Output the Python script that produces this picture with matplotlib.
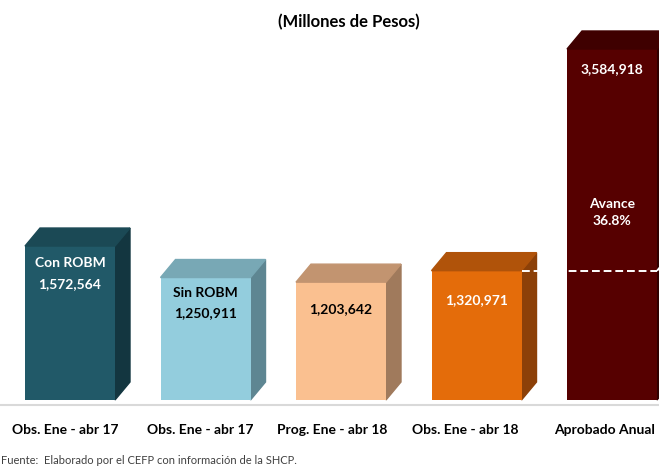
import numpy as np
import matplotlib.pyplot as plt
from matplotlib.patches import Polygon

plt.rcParams['font.family'] = ['Lato', 'DejaVu Sans']

# data
categories = ['Obs. Ene - abr 17', 'Obs. Ene - abr 17', 'Prog. Ene - abr 18',
              'Obs. Ene - abr 18', 'Aprobado Anual']
values = [1572564, 1250911, 1203642, 1320971, 3584918]
inner_labels = [['Con ROBM', '1,572,564'], ['Sin ROBM', '1,250,911'],
                ['1,203,642'], ['1,320,971'], ['3,584,918']]
avance_pct = 36.8

# styles (front, top, side, text color)
front = ['#215968', '#93CDDD', '#FAC090', '#E46C0A', '#560000']
top = ['#1B4955', '#78A8B5', '#C29470', '#B0530A', '#3F0000']
side = ['#133640', '#5E8692', '#A07A5C', '#8C4008', '#300000']
txt_col = ['white', 'black', 'black', 'white', 'white']
first_off = [17, 15, 27, 29, 20]  # px below bar top
label_dx = [-5, -5, -9, -11, -7]  # px shift of category labels

W, H = 659, 468
fig = plt.figure(figsize=(W / 100, H / 100), dpi=100)
ax = fig.add_axes([0, 0, 1, 1])

k = 351 / 3584918.0          # px per unit
x0, step = 70, 135.5          # px
ax.set_xlim(-x0 / step, (W - x0) / step)
ax.set_ylim(-68 / k, 400 / k)
ax.axis('off')

bw = 90 / step
ddx = 15 / step
ddy = 18 / k

x = np.arange(len(values))
ax.bar(x, values, width=bw, color=front, zorder=3)
for i, v in enumerate(values):
    l, r = i - bw / 2, i + bw / 2
    ax.add_patch(Polygon([(l, v), (r, v), (r + ddx, v + ddy), (l + ddx, v + ddy)],
                         closed=True, color=top[i], zorder=3))
    ax.add_patch(Polygon([(r, 0), (r + ddx, ddy), (r + ddx, v + ddy), (r, v)],
                         closed=True, color=side[i], zorder=2))
    for j, s in enumerate(inner_labels[i]):
        ax.annotate(s, (i, v), xytext=(0, -(first_off[i] + 21 * j) * 0.72),
                    textcoords='offset points', ha='center', va='center',
                    fontsize=10, fontweight='bold', color=txt_col[i], zorder=5)
    ax.annotate(categories[i], (i, 0), xytext=(label_dx[i] * 0.72, -30 * 0.72),
                textcoords='offset points', ha='center', va='center',
                fontsize=10, fontweight='bold', color='black')

# avance line
lvl = values[-1] * avance_pct / 100
ax.plot([3 + bw / 2, 4 + bw / 2], [lvl, lvl], color='white', ls=(0, (4, 2)),
        lw=1.4, zorder=6)
ax.plot([4 + bw / 2, 4 + bw / 2 + ddx], [lvl, lvl + ddy], color='white',
        ls=(0, (4, 2)), lw=1.4, zorder=6)
ax.annotate('Avance\n%.1f%%' % avance_pct, (4, lvl), xytext=(0, 58 * 0.72),
            textcoords='offset points', ha='center', va='center',
            fontsize=10, fontweight='bold', color='white', linespacing=1.5, zorder=5)

# baseline
ax.axhline(-5 / k, color='#D9D9D9', lw=1.5, zorder=1)

fig.text(349 / W, 1 - 22 / H, '(Millones de Pesos)', ha='center', va='center',
         fontsize=12, fontweight='bold')
fig.text(1 / W, 1 - 461 / H, 'Fuente:  Elaborado por el CEFP con información de la SHCP.',
         ha='left', va='center', fontsize=8, color='#404040')

fig.savefig('out.png', dpi=100)
